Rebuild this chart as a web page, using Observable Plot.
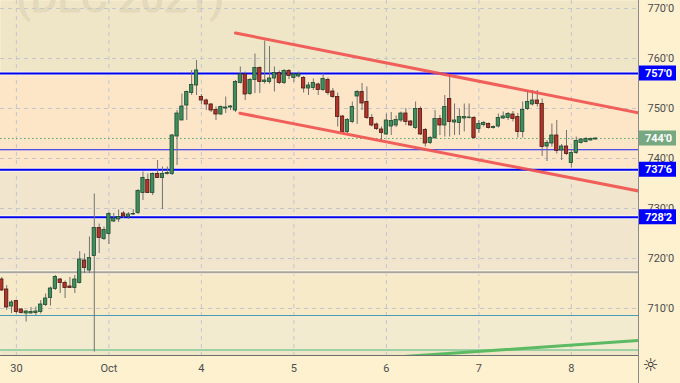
<!DOCTYPE html>
<html><head><meta charset="utf-8">
<script src="https://cdn.jsdelivr.net/npm/d3@7"></script>
<script src="https://cdn.jsdelivr.net/npm/@observablehq/plot@0.6"></script>
<style>
html,body{margin:0;padding:0;background:#fdf1d0;overflow:hidden;}
svg{display:block;}
</style></head><body>
<script>
// ---- data (hourly candles, index 0..122) ----
const openP = [715.8,713.8,710.4,711.5,709.8,709.0,709.0,709.1,709.3,710.7,712.1,713.9,715.8,715.1,714.4,714.1,715.1,719.6,717.6,720.5,726.1,723.9,724.9,727.4,727.8,729.0,728.3,728.8,729.1,733.1,735.7,733.1,736.9,736.1,736.9,736.9,744.4,747.6,750.6,753.1,754.6,752.3,751.6,750.8,749.7,748.8,750.0,750.2,749.6,755.1,756.8,752.9,755.7,758.1,755.3,755.3,756.0,757.1,755.1,757.5,756.1,756.4,756.1,754.0,754.1,754.8,753.7,755.7,753.4,752.3,748.4,745.3,747.3,752.4,753.3,751.3,748.1,746.8,745.8,744.8,746.4,746.6,747.6,749.0,747.4,746.1,749.9,745.7,743.1,744.1,747.9,746.6,751.9,747.2,747.1,748.0,748.1,748.1,745.9,746.7,746.9,746.1,746.4,748.0,748.1,748.8,748.3,745.3,749.9,750.8,751.6,750.9,742.4,743.0,744.6,741.6,742.4,739.1,741.1,743.1,743.3,743.6,743.8];
const highP = [716.2,714.6,711.6,711.6,710.0,709.6,710.2,710.3,711.6,712.9,714.3,716.6,716.0,715.5,716.2,716.6,721.4,720.9,724.3,732.9,726.9,726.3,729.2,729.0,729.7,729.4,729.2,729.8,733.8,737.3,736.9,737.1,739.6,738.3,738.3,744.8,749.6,752.9,753.5,757.6,759.6,752.8,751.9,751.0,750.3,750.5,752.3,750.6,755.6,758.3,757.3,756.0,760.9,758.3,763.5,762.4,758.3,757.5,757.8,757.8,757.1,757.3,756.4,755.2,755.9,755.1,756.9,756.1,754.0,753.1,748.6,748.0,751.3,753.6,755.0,754.3,748.8,747.1,746.3,748.9,749.2,748.5,749.3,750.0,747.6,751.3,750.3,746.0,744.4,749.6,748.6,752.6,756.6,750.9,749.9,750.9,750.9,748.4,747.6,747.4,747.1,746.5,748.9,749.3,749.2,749.4,749.0,751.3,753.3,753.6,753.6,751.9,743.6,746.9,747.6,742.8,745.6,741.6,744.3,744.0,744.2,744.1,744.1];
const lowP = [713.4,709.6,709.0,708.9,708.9,707.3,708.9,708.6,708.9,710.4,710.5,713.6,713.0,712.0,714.0,713.0,714.9,717.0,717.0,701.3,721.0,723.6,722.8,727.2,727.2,728.0,727.8,728.6,728.8,731.6,733.0,732.6,736.0,729.8,736.7,736.6,738.6,747.6,747.6,752.6,752.6,750.8,749.6,749.2,747.6,748.6,749.0,749.6,749.2,754.9,751.6,752.6,753.0,753.0,754.9,754.9,753.3,754.8,754.8,755.8,755.2,756.1,753.1,752.6,753.6,752.6,753.4,752.6,752.0,746.3,745.0,745.0,747.0,746.8,749.6,747.8,746.3,745.6,743.3,744.6,744.6,746.2,747.2,746.6,746.4,745.8,744.6,742.3,742.8,743.8,744.6,744.3,744.3,744.6,744.6,745.3,747.9,743.8,745.0,746.3,745.9,745.9,746.1,747.8,747.6,747.3,744.1,744.1,749.6,750.5,750.3,740.4,739.4,742.3,740.9,739.6,740.6,738.1,740.8,742.9,743.1,743.5,743.7];
const closeP = [713.6,710.2,711.2,709.3,709.1,709.4,709.3,709.4,710.8,712.0,714.0,716.3,715.1,714.1,714.1,715.8,719.8,718.1,720.1,726.1,724.1,725.7,728.9,728.0,728.3,728.4,728.8,728.9,733.5,736.1,733.1,736.9,736.1,736.9,737.1,744.6,749.0,750.4,753.3,754.7,757.6,751.6,750.8,749.6,748.8,750.3,750.2,750.4,755.3,756.8,752.8,755.7,758.1,755.3,755.6,756.0,757.1,755.1,757.5,756.5,756.8,756.8,754.0,754.6,755.1,753.7,755.9,753.1,752.3,748.3,745.3,747.7,750.3,753.3,751.0,748.1,746.6,745.9,745.1,747.6,747.5,747.7,749.0,747.3,746.6,749.9,744.8,743.0,744.1,747.9,746.6,750.3,747.3,747.6,748.3,748.3,748.2,744.1,746.9,747.1,746.1,746.3,748.1,748.4,748.9,747.9,745.3,749.7,751.3,751.6,750.9,742.3,743.1,744.6,741.5,742.4,740.9,741.1,743.5,743.8,743.9,743.9,744.0];

const dayTicks = [3, 22, 41, 60, 79, 98, 117];
const dayLabels = ["30", "Oct", "4", "5", "6", "7", "8"];
const priceTicks = [710, 720, 730, 740, 750, 760, 770];

const keyLevels = [757.0, 737.75, 728.25];
const keyLevelLabels = ["757'0", "737'6", "728'2"];
const thinBlueLevels = [741.75];
const grayLevels = [717.25];
const tealLevels = [708.6];
const greenLevels = [701.7];
const lastPrice = [744.0];
const lastPriceLabels = ["744'0"];

const upperChannel = [{i: 48.0, p: 765.1}, {i: 130.79, p: 749.14}];
const lowerChannel = [{i: 48.9, p: 749.06}, {i: 130.79, p: 733.5}];
const greenTrend = [{i: 82.6, p: 700.4}, {i: 130.79, p: 703.6}];

const watermark = ["(DEC 2021)"];

// ---- build ----
const candles = openP.map((o, i) => ({i, o, h: highP[i], l: lowP[i], c: closeP[i]}));
const xMin = -0.267, xMax = 130.79;
const yMin = 700.6, yMax = 771.6;
const half = 0.34;

const chart = Plot.plot({
  width: 680, height: 383,
  marginLeft: 0, marginRight: 42, marginTop: 0, marginBottom: 28,
  x: {domain: [xMin, xMax]},
  y: {domain: [yMin, yMax]},
  style: {background: "#fdf1d0", fontFamily: "Roboto, 'Liberation Sans', sans-serif", fontSize: "11px", overflow: "visible"},
  marks: [
    Plot.frame({fill: "#efe5c7", stroke: null}),
    // zones
    Plot.rect([0], {x1: xMin, x2: xMax, y1: keyLevels[0], y2: keyLevels[1], fill: "#fde6c8"}),
    Plot.rect([0], {x1: xMin, x2: xMax, y1: keyLevels[1], y2: grayLevels[0], fill: "#f1e6cd"}),
    Plot.rect([0], {x1: xMin, x2: xMax, y1: grayLevels[0], y2: tealLevels[0], fill: "#f7eac8"}),
    Plot.rect([0], {x1: xMin, x2: xMax, y1: tealLevels[0], y2: greenLevels[0], fill: "#f2ebd0"}),
    // watermark
    Plot.text(watermark, {frameAnchor: "top-left", dx: 16, dy: 11, lineAnchor: "bottom", textAnchor: "start", fontSize: 41, fill: "#e3d9bb", stroke: "#dbd0b0", strokeWidth: 0.6}),
    // grid
    Plot.ruleY(priceTicks, {y: d => d, stroke: "#c4c6cc", strokeDasharray: "4,4", strokeWidth: 1}),
    Plot.ruleX(dayTicks, {x: d => d, stroke: "#c4c6cc", strokeDasharray: "4,4", strokeWidth: 1}),
    // horizontal levels
    Plot.ruleY(grayLevels, {y: d => d, stroke: "#fbf6ea", strokeWidth: 4}),
    Plot.ruleY(grayLevels, {y: d => d, stroke: "#a9a59b", strokeWidth: 2}),
    Plot.ruleY(tealLevels, {y: d => d, stroke: "#4a9bb5", strokeWidth: 1}),
    Plot.ruleY(greenLevels, {y: d => d, stroke: "#4dbb84", strokeWidth: 1}),
    Plot.ruleY(thinBlueLevels, {y: d => d, stroke: "#1c1cf5", strokeWidth: 1}),
    Plot.ruleY(keyLevels, {y: d => d, stroke: "#fbf6ea", strokeWidth: 4}),
    Plot.ruleY(keyLevels, {y: d => d, stroke: "#0000f0", strokeWidth: 2}),
    Plot.ruleY(lastPrice, {y: d => d, stroke: "#5aa872", strokeWidth: 1, strokeDasharray: "1.5,2.5"}),
    // candles
    Plot.ruleX(candles, {x: "i", y1: "l", y2: "h", stroke: "#727272", strokeWidth: 1}),
    Plot.rect(candles.filter(d => d.c >= d.o), {x1: d => d.i - half, x2: d => d.i + half, y1: "o", y2: "c", fill: "#3f8f5e", stroke: "#1e4a30", strokeWidth: 0.8}),
    Plot.rect(candles.filter(d => d.c < d.o), {x1: d => d.i - half, x2: d => d.i + half, y1: "o", y2: "c", fill: "#b3342b", stroke: "#4a1812", strokeWidth: 0.8}),
    // trend lines
    Plot.line(upperChannel, {x: "i", y: "p", stroke: "#f0504e", strokeWidth: 3, strokeOpacity: 0.9, clip: true}),
    Plot.line(lowerChannel, {x: "i", y: "p", stroke: "#f0504e", strokeWidth: 3, strokeOpacity: 0.9, clip: true}),
    Plot.line(greenTrend, {x: "i", y: "p", stroke: "#5cba63", strokeWidth: 3, clip: true}),
    // borders
    Plot.ruleY([yMin], {stroke: "#6f6f6f", strokeWidth: 1}),
    Plot.ruleX([xMax], {stroke: "#8a8a8a", strokeWidth: 1, insetBottom: -28}),
    // axes
    Plot.axisY(priceTicks, {anchor: "right", tickSize: 0, tickPadding: 9, label: null, tickFormat: d => d + "'0", fill: "#4d4d4d", fontSize: 11}),
    Plot.axisX(dayTicks, {anchor: "bottom", tickSize: 0, tickPadding: 9, label: null, tickFormat: d => dayLabels[dayTicks.indexOf(d)], fill: "#4d4d4d", fontSize: 11}),
    // price label boxes
    Plot.rect(keyLevels, {x1: xMax, x2: xMax, y1: d => d, y2: d => d, insetLeft: 1, insetRight: -38, insetTop: -7.5, insetBottom: -7.5, fill: "#0000ff"}),
    Plot.text(keyLevels, {x: xMax, y: d => d, text: (d, i) => keyLevelLabels[i], dx: 20, fill: "white", fontWeight: "bold", fontSize: 11}),
    Plot.rect(lastPrice, {x1: xMax, x2: xMax, y1: d => d, y2: d => d, insetLeft: 1, insetRight: -38, insetTop: -7.5, insetBottom: -7.5, fill: "#76a881"}),
    Plot.text(lastPrice, {x: xMax, y: d => d, text: (d, i) => lastPriceLabels[i], dx: 20, fill: "white", fontWeight: "bold", fontSize: 11}),
    // settings icon
    Plot.text(["☼"], {frameAnchor: "bottom-right", dx: 20, dy: 15, fontSize: 18, fill: "#2a2a2a", fontFamily: "DejaVu Sans"})
  ]
});
document.body.appendChild(chart);
</script>
</body></html>
